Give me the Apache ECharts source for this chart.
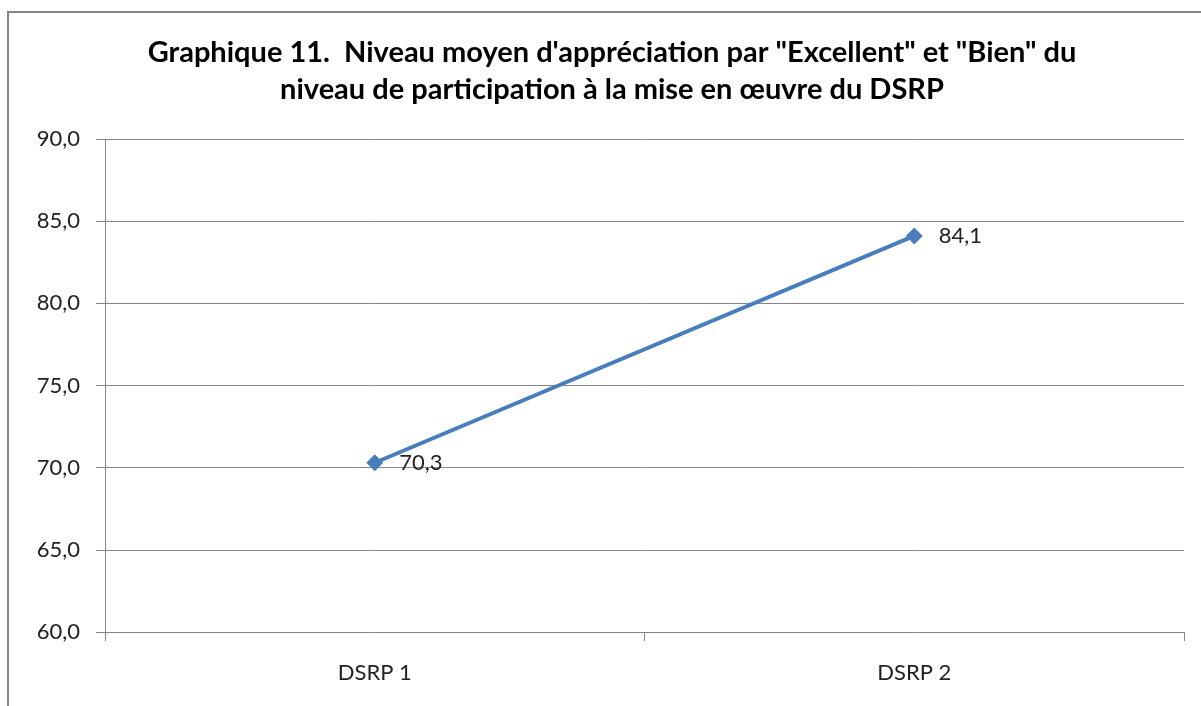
<!DOCTYPE html>
<html lang="fr">
<head>
    <meta charset="UTF-8">
    <title>Graphique 11</title>
    <script src="https://cdn.jsdelivr.net/npm/echarts@6/dist/echarts.min.js"></script>
    <style>
        html, body { margin: 0; padding: 0; background: #fff; overflow: hidden; }
        #frame { position: absolute; left: 7px; top: 11px; width: 1400px; height: 900px; border: 2px solid #868686; }
        #chart { position: absolute; left: 0; top: 0; width: 1201px; height: 706px; }
    </style>
</head>
<body>
<div id="frame"></div>
<div id="chart"></div>

<script>
    var categories = ['DSRP 1', 'DSRP 2'];
    var values = [70.3, 84.1];
    var yTicks = [60, 65, 70, 75, 80, 85, 90];

    function fr(v) {
        return v.toFixed(1).replace('.', ',');
    }

    var myChart = echarts.init(document.getElementById('chart'));
    var option = {
        textStyle: { fontFamily: 'Lato' },
        title: {
            text: 'Graphique 11.  Niveau moyen d\'appréciation par "Excellent" et "Bien" du\nniveau de participation à la mise en œuvre du DSRP',
            left: 607,
            textAlign: 'center',
            top: 29,
            textStyle: {
                fontFamily: 'Lato',
                fontWeight: 'bold',
                fontSize: 29,
                lineHeight: 37,
                color: '#000'
            }
        },
        grid: { left: 105, right: 17, top: 139, bottom: 74 },
        xAxis: {
            type: 'category',
            data: categories,
            boundaryGap: true,
            axisLine: { lineStyle: { color: '#868686', width: 1 } },
            axisTick: { show: true, length: 9, interval: 0, lineStyle: { color: '#868686' } },
            axisLabel: { color: '#222', fontSize: 22, margin: 30 }
        },
        yAxis: {
            type: 'value',
            min: yTicks[0],
            max: yTicks[yTicks.length - 1],
            interval: 5,
            axisLine: { show: true, lineStyle: { color: '#868686', width: 1 } },
            axisTick: { show: true, length: 9, lineStyle: { color: '#868686' } },
            axisLabel: { color: '#222', fontSize: 22, margin: 25, formatter: fr },
            splitLine: { lineStyle: { color: '#868686', width: 1 } }
        },
        series: [{
            type: 'line',
            data: values,
            symbol: 'diamond',
            symbolSize: 17,
            lineStyle: { color: '#4a7ebb', width: 4 },
            itemStyle: { color: '#4a7ebb' },
            label: {
                show: true,
                position: 'right',
                distance: 16,
                fontSize: 22,
                color: '#222',
                formatter: function (p) { return fr(p.value); }
            }
        }]
    };
    myChart.setOption(option);
</script>

</body>
</html>
